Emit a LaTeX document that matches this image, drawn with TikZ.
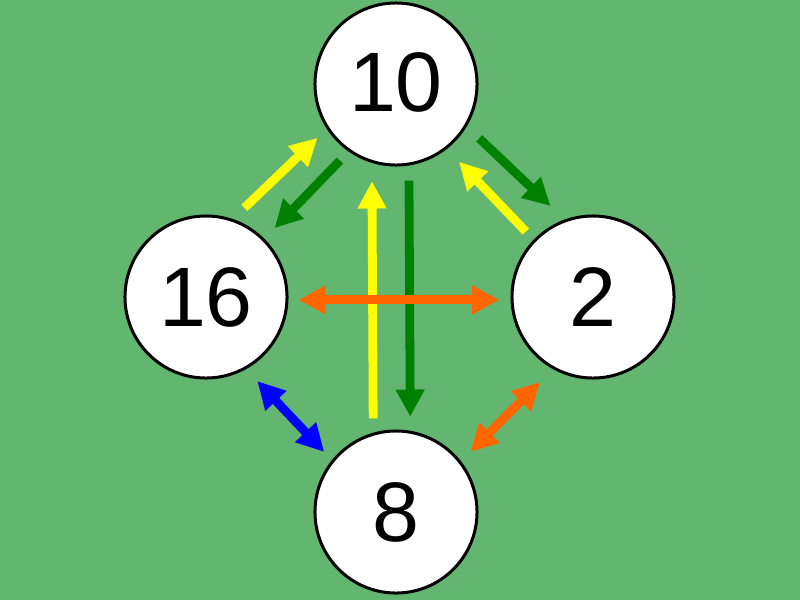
\documentclass[tikz,border=0pt]{standalone}
\usepackage{fontspec}
\setmainfont{Liberation Sans}
\usepackage{xcolor}
\usetikzlibrary{arrows.meta,positioning,calc}

\definecolor{bggreen}{HTML}{63B670}
\definecolor{sidegreen}{HTML}{60B46D}
\definecolor{arrgreen}{HTML}{008000}
\definecolor{arryellow}{HTML}{FFFF00}
\definecolor{arrorange}{HTML}{FF6600}
\definecolor{arrblue}{HTML}{0000FF}

\begin{document}
\begin{tikzpicture}[
            x=0.025cm, y=-0.025cm,
            numnode/.style={circle,draw,fill=white,line width=0.075cm,minimum size=4.05cm,inner sep=0pt,font=\fontsize{60}{60}\selectfont},
            oneway/.style={line width=0.22cm,-{Triangle[length=0.68cm,width=0.68cm]}},
            twoway/.style={line width=0.22cm,{Triangle[length=0.68cm,width=0.68cm]}-{Triangle[length=0.68cm,width=0.68cm]}}
        ]
            % background
            \fill[bggreen] (0,0) rectangle (800,600);
            \fill[sidegreen] (0,0) rectangle (120,600);
            \fill[sidegreen] (680,0) rectangle (800,600);
            \node[numnode] (n10) at (396,84) {\raisebox{1mm}{10}};
            \node[numnode] (n16) at (206,297) {16};
            \node[numnode] (n2) at (593,297) {2};
            \node[numnode] (n8) at (396,512) {8};
            % between 16, 10 and 2
            \draw[oneway,arryellow,shorten <=0.4cm,shorten >=0.32cm] (n16.71) -- (n10.213);
            \draw[oneway,arrgreen,shorten <=0.31cm,shorten >=0.37cm] (n10.235) -- (n16.45);
            \draw[oneway,arrgreen,shorten <=0.43cm,shorten >=0.49cm] (n10.329) -- (n2.110);
            \draw[oneway,arryellow,shorten <=0.28cm,shorten >=0.44cm] (n2.136) -- (n10.308);
            % between 10 and 8
            \draw[oneway,arryellow,shorten <=0.36cm,shorten >=0.46cm] (n8.106.5) -- (n10.253.5);
            \draw[oneway,arrgreen,shorten <=0.38cm,shorten >=0.35cm] (n10.279.2) -- (n8.80.8);
            % both ways
            \draw[twoway,arrorange,shorten <=0.25cm,shorten >=0.28cm] (n16.358) -- (n2.182);
            \draw[twoway,arrblue,shorten <=0.41cm,shorten >=0.28cm] (n16.299) -- (n8.141);
            \draw[twoway,arrorange,shorten <=0.46cm,shorten >=0.33cm] (n2.241) -- (n8.38);
        \end{tikzpicture}
\end{document}
